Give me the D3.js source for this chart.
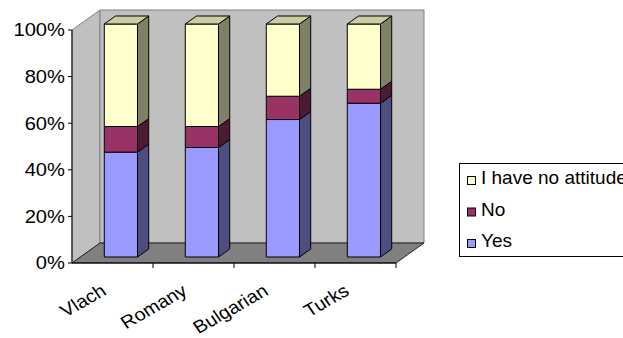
<!DOCTYPE html>
<html>
<head>
<meta charset="utf-8">
<script src="https://cdn.jsdelivr.net/npm/d3@7"></script>
<style>
  body { margin: 0; background: #fff; }
  svg { display: block; font-family: "Liberation Sans", Arial, sans-serif; }
</style>
</head>
<body>
<div class="svg-container"></div>
<script>
// data (percent of answers)
const categories = ['Vlach', 'Romany', 'Bulgarian', 'Turks'];
const yesValues = [45, 47, 59, 66];
const noValues = [11, 9, 10, 6];
const noAttitudeValues = [44, 44, 31, 28];
const seriesNames = ['Yes', 'No', 'I have no attitude'];
const yTicks = [0, 20, 40, 60, 80, 100];

function renderChart() {
  // set up dimensions
  const width = 623;
  const height = 338;
  const plot = { left: 72, right: 396, top: 30, bottom: 263 };
  const depthX = 28;
  const depthY = -20;
  const barFront = 0.3;   // fraction of the depth where the bar front sits
  const barDepth = 0.4;   // fraction of the depth the bar takes

  const colours = {
    'Yes': { front: '#9999ff', side: '#4d4d80', top: '#7a7acc' },
    'No': { front: '#993366', side: '#4d1a33', top: '#7a2952' },
    'I have no attitude': { front: '#ffffcc', side: '#808066', top: '#ccccA3' }
  };

  const rows = categories.map((c, i) => ({
    category: c,
    'Yes': yesValues[i],
    'No': noValues[i],
    'I have no attitude': noAttitudeValues[i]
  }));

  const x = d3.scaleBand()
    .domain(categories)
    .range([plot.left, plot.right])
    .paddingInner(0)
    .paddingOuter(0);

  const y = d3.scaleLinear()
    .domain([0, 100])
    .range([plot.bottom, plot.top]);

  const svg = d3.select('.svg-container')
    .append('svg')
    .attr('width', width)
    .attr('height', height);

  const line = d3.line();

  // walls and floor
  svg.append('path')
    .attr('d', line([[plot.left, plot.bottom], [plot.left, plot.top],
      [plot.left + depthX, plot.top + depthY], [plot.left + depthX, plot.bottom + depthY]]) + 'Z')
    .attr('fill', '#c0c0c0')
    .attr('stroke', '#808080');

  svg.append('path')
    .attr('d', line([[plot.left + depthX, plot.top + depthY], [plot.right + depthX, plot.top + depthY],
      [plot.right + depthX, plot.bottom + depthY], [plot.left + depthX, plot.bottom + depthY]]) + 'Z')
    .attr('fill', '#c0c0c0')
    .attr('stroke', '#808080');

  svg.append('path')
    .attr('d', line([[plot.left, plot.bottom], [plot.right, plot.bottom],
      [plot.right + depthX, plot.bottom + depthY], [plot.left + depthX, plot.bottom + depthY]]) + 'Z')
    .attr('fill', '#808080')
    .attr('stroke', '#000')
    .attr('stroke-width', 0.8);

  // stacked bars
  const stack = d3.stack().keys(seriesNames);
  const series = stack(rows);

  const barW = x.bandwidth() * 0.41;
  const fx = depthX * barFront;
  const fy = depthY * barFront;
  const bx = depthX * barDepth;
  const by = depthY * barDepth;

  const barGroup = svg.append('g').attr('class', 'bars');

  categories.forEach((c, ci) => {
    const x1 = x(c) + (x.bandwidth() - barW) / 2 + fx;
    const x2 = x1 + barW;
    series.forEach((s, si) => {
      const d = s[ci];
      const yb = y(d[0]) + fy;
      const yt = y(d[1]) + fy;
      const col = colours[s.key];
      const g = barGroup.append('g');
      g.append('path')
        .attr('d', line([[x1, yb], [x2, yb], [x2, yt], [x1, yt]]) + 'Z')
        .attr('fill', col.front);
      g.append('path')
        .attr('d', line([[x2, yb], [x2 + bx, yb + by], [x2 + bx, yt + by], [x2, yt]]) + 'Z')
        .attr('fill', col.side);
      if (si === series.length - 1) {
        g.append('path')
          .attr('d', line([[x1, yt], [x2, yt], [x2 + bx, yt + by], [x1 + bx, yt + by]]) + 'Z')
          .attr('fill', col.top);
      }
      g.selectAll('path')
        .attr('stroke', '#000')
        .attr('stroke-width', 1)
        .attr('stroke-linejoin', 'round');
    });
  });

  // value axis
  const yAxis = svg.append('g');
  yAxis.append('line')
    .attr('x1', plot.left).attr('x2', plot.left)
    .attr('y1', y(0)).attr('y2', y(100))
    .attr('stroke', '#000');
  yAxis.selectAll('line.tick')
    .data(yTicks)
    .enter()
    .append('line')
    .attr('class', 'tick')
    .attr('x1', plot.left - 4).attr('x2', plot.left)
    .attr('y1', d => y(d)).attr('y2', d => y(d))
    .attr('stroke', '#000');
  yAxis.selectAll('text')
    .data(yTicks)
    .enter()
    .append('text')
    .attr('transform', d => `translate(${plot.left - 7},${y(d)}) scale(1.12,1)`)
    .attr('dy', '0.36em')
    .attr('text-anchor', 'end')
    .attr('font-size', 18)
    .attr('fill', '#000')
    .text(d => d + '%');

  // category axis
  const xAxis = svg.append('g');
  xAxis.append('line')
    .attr('x1', plot.left).attr('x2', plot.right)
    .attr('y1', plot.bottom).attr('y2', plot.bottom)
    .attr('stroke', '#000');
  xAxis.selectAll('line.tick')
    .data(categories)
    .enter()
    .append('line')
    .attr('class', 'tick')
    .attr('x1', d => x(d) + x.bandwidth())
    .attr('x2', d => x(d) + x.bandwidth())
    .attr('y1', plot.bottom).attr('y2', plot.bottom + 5)
    .attr('stroke', '#000');
  xAxis.selectAll('text')
    .data(categories)
    .enter()
    .append('text')
    .attr('transform', d => `translate(${x(d) + x.bandwidth() / 2 - 5},${plot.bottom + 31}) scale(1.1,1) rotate(-32)`)
    .attr('text-anchor', 'end')
    .attr('font-size', 18)
    .attr('fill', '#000')
    .text(d => d);

  // legend
  const legend = svg.append('g').attr('id', 'legend');
  legend.append('rect')
    .attr('x', 459.5).attr('y', 163.5)
    .attr('width', 200).attr('height', 93)
    .attr('fill', '#fff')
    .attr('stroke', '#000');

  const legendOrder = seriesNames.slice().reverse();
  const legendItem = legend.selectAll('g.item')
    .data(legendOrder)
    .enter()
    .append('g')
    .attr('class', 'item')
    .attr('transform', (d, i) => `translate(0,${184 + i * 31.5})`);
  legendItem.append('rect')
    .attr('x', 467.5).attr('y', -7.5)
    .attr('width', 8).attr('height', 8)
    .attr('fill', d => colours[d].front)
    .attr('stroke', '#000');
  legendItem.append('text')
    .attr('x', 481)
    .attr('font-size', 19)
    .attr('fill', '#000')
    .text(d => d);
}

renderChart();
</script>
</body>
</html>
